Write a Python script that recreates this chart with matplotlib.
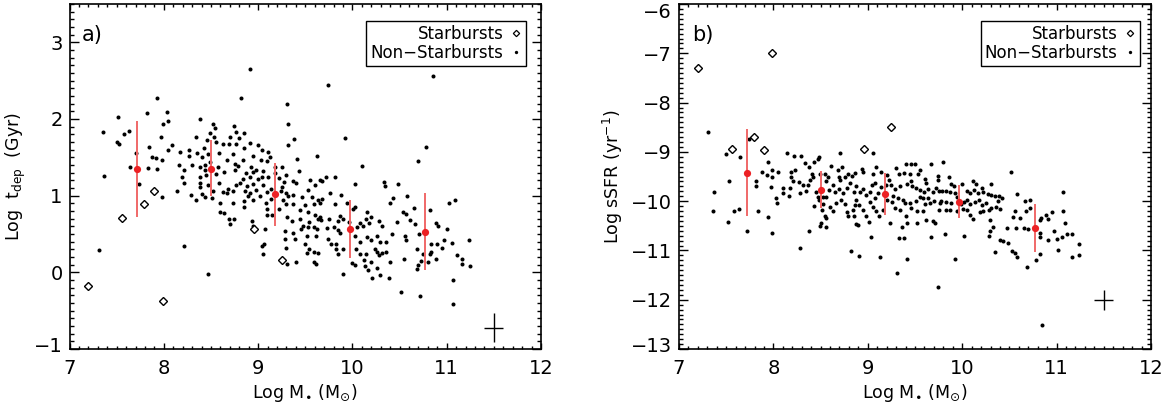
import numpy as np
import matplotlib
matplotlib.use("Agg")
import matplotlib.pyplot as plt
from matplotlib.lines import Line2D
from matplotlib.ticker import MultipleLocator
from matplotlib.transforms import ScaledTranslation

# starbursts (same galaxies in both panels)
sb_mass = [7.20, 7.56, 7.79, 7.90, 7.99, 8.96, 9.25]
sb_tdep = [-0.18, 0.71, 0.89, 1.06, -0.37, 0.56, 0.16]
sb_ssfr = [-7.29, -8.95, -8.69, -8.96, -7.00, -8.94, -8.49]

# non-starbursts: (log M*, log t_dep)
nsb_tdep = np.array([
    (8.91, 2.65), (7.93, 2.27), (8.82, 2.27), (9.31, 2.19), (8.03, 2.09), (7.82, 2.08),
    (7.51, 2.03), (8.04, 1.98), (7.99, 1.93), (8.38, 2.00), (9.32, 1.93), (7.35, 1.83),
    (7.63, 1.85), (7.58, 1.80), (8.52, 1.94), (8.54, 1.88), (8.49, 1.82), (8.74, 1.91),
    (8.77, 1.83), (8.85, 1.82), (7.97, 1.76), (8.34, 1.77), (8.46, 1.73), (8.53, 1.76),
    (8.80, 1.75), (8.70, 1.76), (7.50, 1.70), (7.53, 1.68), (8.09, 1.66), (7.84, 1.64),
    (8.04, 1.59), (8.17, 1.57), (8.27, 1.59), (8.35, 1.56), (8.43, 1.62), (8.55, 1.70),
    (8.63, 1.68), (8.69, 1.67), (8.77, 1.68), (8.85, 1.62), (8.91, 1.69), (9.00, 1.66),
    (9.04, 1.59), (9.11, 1.57), (9.32, 1.66), (7.87, 1.51), (7.92, 1.49), (7.98, 1.46),
    (7.71, 1.56), (8.27, 1.52), (8.40, 1.51), (8.47, 1.54), (8.59, 1.56), (8.67, 1.46),
    (8.73, 1.54), (8.84, 1.47), (8.95, 1.52), (9.03, 1.46), (9.09, 1.45), (9.13, 1.51),
    (8.16, 1.40), (8.30, 1.40), (8.38, 1.38), (8.44, 1.40), (8.49, 1.44), (8.58, 1.38),
    (8.76, 1.41), (8.79, 1.39), (8.93, 1.38), (8.98, 1.33), (9.18, 1.37), (9.25, 1.38),
    (7.64, 1.38), (7.83, 1.36), (7.93, 1.35), (8.21, 1.34), (8.44, 1.34), (8.64, 1.31),
    (8.76, 1.33), (8.87, 1.29), (8.95, 1.31), (9.05, 1.32), (9.18, 1.29), (9.30, 1.27),
    (7.37, 1.26), (8.19, 1.24), (8.38, 1.25), (8.45, 1.27), (8.55, 1.28), (8.84, 1.22),
    (8.91, 1.24), (9.00, 1.22), (9.04, 1.25), (9.11, 1.24), (9.22, 1.23), (9.27, 1.18),
    (7.74, 1.15), (8.21, 1.16), (8.38, 1.17), (8.47, 1.14), (8.59, 1.16), (8.68, 1.09),
    (8.77, 1.14), (8.81, 1.16), (8.88, 1.12), (8.95, 1.15), (9.05, 1.14), (9.14, 1.09),
    (9.25, 1.11), (8.14, 1.06), (8.38, 1.11), (8.52, 1.06), (8.63, 1.05), (8.73, 1.06),
    (8.86, 1.06), (8.91, 1.04), (8.98, 1.07), (9.09, 1.05), (9.24, 1.06), (9.30, 1.04),
    (7.98, 0.98), (8.29, 1.01), (8.34, 0.95), (8.40, 1.02), (8.44, 0.98), (8.51, 0.97),
    (8.67, 1.03), (8.73, 0.91), (8.85, 0.93), (8.89, 0.99), (8.95, 0.95), (9.02, 0.99),
    (9.08, 0.90), (9.14, 0.96), (9.26, 0.94), (9.32, 0.99), (8.60, 0.90), (8.85, 0.85),
    (9.09, 0.83), (9.22, 0.83), (9.30, 0.89), (8.60, 0.79), (8.64, 0.77), (8.69, 0.70),
    (8.74, 0.69), (8.70, 0.63), (8.94, 0.67), (8.95, 0.61), (9.07, 0.57), (9.09, 0.75),
    (9.15, 0.75), (9.28, 0.54), (9.31, 0.72), (9.28, 0.44), (9.06, 0.37), (9.04, 0.34),
    (9.30, 0.32), (9.05, 0.24), (9.31, 0.11), (8.21, 0.34), (7.31, 0.29), (8.47, -0.02),
    (10.85, 2.56), (9.74, 2.45), (9.38, 1.74), (9.92, 1.75), (10.78, 1.63), (9.41, 1.48),
    (9.62, 1.52), (10.70, 1.45), (10.10, 1.39), (9.43, 1.32), (9.37, 1.19), (9.40, 1.17),
    (9.55, 1.21), (9.66, 1.20), (9.68, 1.19), (9.72, 1.25), (9.82, 1.25), (10.33, 1.18),
    (10.35, 1.12), (10.48, 1.15), (10.03, 1.15), (9.60, 1.14), (9.53, 1.08), (9.76, 1.03),
    (9.37, 1.01), (9.47, 0.98), (9.57, 0.98), (9.64, 0.95), (9.68, 0.96), (9.88, 1.01),
    (10.43, 0.97), (10.58, 0.99), (11.09, 0.95), (11.02, 0.91), (10.40, 0.91), (9.37, 0.89),
    (9.50, 0.88), (9.59, 0.89), (9.66, 0.90), (9.82, 0.89), (9.94, 0.91), (10.03, 0.85),
    (10.01, 0.82), (10.65, 0.84), (10.54, 0.79), (10.57, 0.76), (10.82, 0.81), (10.16, 0.79),
    (9.44, 0.81), (9.53, 0.79), (9.60, 0.75), (9.63, 0.70), (9.66, 0.72), (9.87, 0.73),
    (9.90, 0.69), (10.20, 0.72), (9.44, 0.69), (9.36, 0.67), (9.54, 0.66), (9.67, 0.68),
    (9.75, 0.70), (9.85, 0.67), (9.96, 0.66), (10.14, 0.69), (10.28, 0.67), (10.31, 0.60),
    (10.61, 0.68), (10.66, 0.63), (10.89, 0.64), (10.91, 0.60), (11.00, 0.56), (10.47, 0.66),
    (9.48, 0.61), (9.53, 0.59), (9.59, 0.59), (9.62, 0.56), (9.73, 0.58), (9.80, 0.59),
    (9.85, 0.55), (9.87, 0.51), (10.05, 0.59), (10.08, 0.64), (10.11, 0.60), (10.18, 0.64),
    (9.37, 0.51), (9.39, 0.44), (9.45, 0.57), (9.50, 0.37), (9.52, 0.48), (9.61, 0.47),
    (9.74, 0.44), (9.77, 0.37), (9.83, 0.37), (9.90, 0.31), (10.03, 0.47), (10.08, 0.40),
    (10.16, 0.46), (10.20, 0.42), (10.26, 0.48), (10.29, 0.40), (10.36, 0.40), (10.42, 0.50),
    (10.56, 0.48), (10.57, 0.42), (10.71, 0.50), (10.83, 0.37), (10.90, 0.37), (10.95, 0.32),
    (10.97, 0.42), (11.06, 0.38), (11.24, 0.42), (9.54, 0.31), (9.52, 0.25), (9.59, 0.27),
    (9.63, 0.25), (9.83, 0.31), (9.85, 0.24), (10.04, 0.30), (10.08, 0.24), (10.14, 0.24),
    (10.24, 0.30), (10.26, 0.27), (10.28, 0.22), (10.31, 0.25), (10.36, 0.27), (10.68, 0.31),
    (10.75, 0.24), (10.82, 0.24), (10.83, 0.27), (11.11, 0.22), (11.16, 0.18), (11.16, 0.11),
    (11.25, 0.08), (9.59, 0.13), (9.61, 0.11), (9.40, 0.13), (9.90, -0.02), (10.00, 0.12),
    (10.03, 0.10), (10.12, 0.16), (10.13, 0.08), (10.17, 0.03), (10.20, 0.14), (10.21, -0.07),
    (10.26, 0.06), (10.29, -0.04), (10.40, 0.13), (10.39, -0.08), (10.55, 0.18), (10.69, 0.05),
    (10.70, 0.09), (10.73, 0.15), (10.80, 0.14), (10.89, 0.18), (11.07, -0.10), (10.52, -0.26),
    (10.72, -0.31), (11.07, -0.41),
])

# non-starbursts: (log M*, log sSFR)
nsb_ssfr = np.array([
    (7.31, -8.59), (7.50, -9.05), (7.65, -9.10), (7.74, -8.73), (8.14, -9.02), (8.22, -9.08),
    (8.29, -9.08), (8.48, -9.10), (8.47, -9.15), (8.43, -9.21), (8.34, -9.23), (8.38, -9.30),
    (8.71, -9.03), (9.05, -9.02), (7.94, -9.21), (7.88, -9.40), (7.99, -9.37), (8.05, -9.40),
    (7.93, -9.47), (7.98, -9.50), (8.19, -9.40), (8.23, -9.37), (8.19, -9.52), (8.21, -9.60),
    (8.27, -9.62), (8.31, -9.67), (8.37, -9.67), (8.39, -9.57), (8.41, -9.44), (8.42, -9.50),
    (8.49, -9.44), (8.55, -9.44), (8.58, -9.52), (8.56, -9.59), (8.61, -9.29), (8.68, -9.37),
    (8.73, -9.30), (8.69, -9.50), (8.71, -9.58), (8.76, -9.52), (8.79, -9.44), (8.83, -9.49),
    (8.86, -9.42), (8.94, -9.35), (8.95, -9.40), (9.05, -9.44), (9.09, -9.30), (9.14, -9.40),
    (9.20, -9.47), (7.82, -9.60), (7.82, -9.69), (7.53, -9.60), (7.37, -9.81), (7.97, -9.71),
    (8.10, -9.74), (8.18, -9.73), (8.10, -9.84), (8.17, -9.89), (8.28, -9.84), (8.35, -9.79),
    (8.45, -9.81), (8.47, -9.91), (8.48, -9.98), (8.53, -9.91), (8.56, -9.91), (8.59, -9.77),
    (8.63, -9.67), (8.65, -9.81), (8.69, -9.76), (8.74, -9.83), (8.78, -9.74), (8.81, -9.64),
    (8.85, -9.81), (8.88, -9.69), (8.92, -9.81), (8.95, -9.76), (8.98, -9.87), (9.02, -9.81),
    (9.04, -9.67), (9.08, -9.64), (9.11, -9.83), (9.14, -9.71), (9.19, -9.67), (9.22, -9.57),
    (8.03, -9.94), (8.04, -10.04), (7.94, -10.33), (7.84, -10.20), (7.64, -10.15), (7.58, -10.21),
    (7.36, -10.21), (7.52, -10.42), (7.72, -10.60), (7.99, -10.65), (8.38, -10.60), (8.28, -10.96),
    (8.43, -10.10), (8.53, -10.06), (8.52, -10.18), (8.55, -10.30), (8.56, -10.35), (8.50, -10.45),
    (8.49, -10.50), (8.56, -10.53), (8.60, -10.11), (8.63, -10.21), (8.66, -10.03), (8.72, -9.98),
    (8.76, -10.06), (8.78, -10.23), (8.79, -10.30), (8.84, -10.18), (8.85, -10.31), (8.86, -10.08),
    (8.88, -9.98), (8.91, -10.08), (8.88, -10.46), (8.90, -10.48), (8.95, -10.18), (8.98, -10.30),
    (9.01, -10.42), (9.02, -10.01), (9.05, -10.11), (9.08, -9.94), (9.09, -10.21), (9.12, -10.30),
    (9.16, -10.18), (9.20, -9.98), (9.03, -10.73), (8.82, -11.02), (8.91, -11.11), (9.13, -11.14),
    (9.80, -9.20), (9.67, -9.25), (9.50, -9.25), (9.46, -9.25), (9.40, -9.25), (9.30, -9.33),
    (9.33, -9.44), (9.38, -9.42), (9.45, -9.44), (9.55, -9.37), (9.53, -9.45), (9.61, -9.56),
    (9.62, -9.64), (9.74, -9.48), (9.74, -9.58), (9.86, -9.52), (9.88, -9.65), (9.91, -9.69),
    (10.00, -9.65), (10.11, -9.60), (10.15, -9.65), (10.21, -9.74), (10.30, -9.65), (10.52, -9.40),
    (11.07, -9.81), (10.58, -9.85), (9.25, -9.67), (9.29, -9.76), (9.34, -9.69), (9.41, -9.65),
    (9.46, -9.60), (9.47, -9.69), (9.51, -9.74), (9.55, -9.77), (9.60, -9.81), (9.64, -9.76),
    (9.69, -9.81), (9.72, -9.74), (9.75, -9.79), (9.79, -9.79), (9.83, -9.79), (9.87, -9.81),
    (9.92, -9.83), (10.05, -9.79), (10.08, -9.83), (10.12, -9.77), (10.17, -9.84), (10.22, -9.81),
    (10.27, -9.85), (10.31, -9.87), (10.35, -9.89), (10.39, -9.89), (9.27, -9.89), (9.32, -9.94),
    (9.37, -9.98), (9.26, -10.01), (9.39, -10.04), (9.45, -10.03), (9.51, -9.99), (9.55, -9.91),
    (9.59, -9.94), (9.64, -9.94), (9.66, -10.03), (9.61, -10.06), (9.70, -9.99), (9.76, -10.03),
    (9.78, -9.99), (9.83, -10.01), (9.88, -10.04), (9.95, -9.91), (9.99, -10.06), (10.02, -10.01),
    (10.05, -9.98), (10.08, -10.06), (10.14, -10.01), (10.18, -9.98), (10.21, -10.08), (10.25, -10.04),
    (10.28, -10.17), (10.31, -10.13), (10.36, -10.11), (10.40, -10.15), (10.38, -9.99), (10.42, -9.94),
    (9.29, -10.13), (9.34, -10.17), (9.40, -10.30), (9.46, -10.13), (9.52, -10.21), (9.59, -10.19),
    (9.75, -10.17), (9.83, -10.18), (9.87, -10.17), (9.94, -10.21), (10.01, -10.15), (10.05, -10.18),
    (10.08, -10.28), (10.11, -10.37), (10.19, -10.23), (10.22, -10.19), (10.29, -10.38), (10.33, -10.52),
    (10.29, -10.60), (10.28, -10.71), (10.35, -11.04), (10.40, -10.79), (10.43, -10.81), (10.48, -10.85),
    (10.53, -11.02), (10.56, -11.06), (10.58, -11.13), (10.47, -10.55), (10.57, -10.55), (10.65, -10.55),
    (10.70, -10.57), (10.61, -10.35), (10.54, -10.33), (10.56, -10.21), (10.68, -10.21), (10.72, -10.13),
    (10.67, -9.99), (10.72, -9.98), (10.82, -10.38), (10.83, -10.35), (10.82, -10.65), (10.82, -10.73),
    (10.82, -11.07), (10.78, -11.19), (10.69, -11.33), (10.89, -10.28), (10.95, -10.23), (10.91, -10.37),
    (10.97, -10.60), (11.00, -10.77), (11.06, -10.72), (11.07, -10.21), (11.09, -10.44), (11.11, -10.67),
    (11.16, -10.67), (11.02, -11.00), (11.16, -11.13), (11.24, -10.87), (11.24, -11.09), (10.91, -10.79),
    (9.67, -10.73), (9.82, -10.67), (10.02, -10.71), (9.62, -10.39), (9.69, -10.40), (9.71, -10.45),
    (9.52, -10.45), (9.41, -10.45), (9.36, -10.53), (9.33, -10.75), (9.38, -10.75), (9.24, -10.44),
    (9.42, -11.17), (9.31, -11.46), (9.74, -11.75), (9.92, -11.18), (10.85, -12.51),
])

# binned medians with 1-sigma ranges
bin_mass = [7.72, 8.50, 9.18, 9.97, 10.77]
tdep_med = [1.35, 1.35, 1.02, 0.57, 0.52]
tdep_lo = [0.72, 1.00, 0.61, 0.19, 0.03]
tdep_hi = [1.98, 1.73, 1.42, 0.94, 1.03]
ssfr_med = [-9.43, -9.77, -9.86, -10.01, -10.55]
ssfr_lo = [-10.30, -10.14, -10.28, -10.35, -11.04]
ssfr_hi = [-8.54, -9.38, -9.43, -9.67, -10.06]

# typical uncertainty
err_pos_a = (11.5, -0.72)
err_pos_b = (11.5, -12.0)
err_size_a = (0.1, 0.19)
err_size_b = (0.1, 0.2)

W, H = 1171, 404
fig = plt.figure(figsize=(W / 100, H / 100), dpi=100)
ax_a = fig.add_axes([69.5 / W, 55 / H, 471.5 / W, 345 / H])
ax_b = fig.add_axes([679 / W, 55 / H, 472 / W, 345 / H])

red = "#ec2124"
bar_red = "#f06868"


def panel(ax, nsb, sb_y, med, lo, hi, epos, esize, ylim, ylabel, tag, leg_anchor, ylab_x):
    ax.plot(nsb[:, 0], nsb[:, 1], "o", color="k", ms=2.9, mew=0, zorder=3)
    ax.plot(sb_mass, sb_y, "D", mfc="white", mec="k", ms=4.2, mew=1.0, zorder=4)
    med = np.array(med)
    yerr = [med - np.array(lo), np.array(hi) - med]
    ax.errorbar(bin_mass, med, yerr=yerr, fmt="none", ecolor=bar_red, elinewidth=1.4,
                capsize=0, zorder=5)
    ax.plot(bin_mass, med, "o", color=red, ms=5.2, mew=0, zorder=6)
    ax.errorbar([epos[0]], [epos[1]], xerr=[esize[0]], yerr=[esize[1]], fmt="none",
                ecolor="k", elinewidth=1.0, capsize=0)

    ax.set_xlim(7, 12)
    ax.set_ylim(*ylim)
    ax.xaxis.set_major_locator(MultipleLocator(1))
    ax.xaxis.set_minor_locator(MultipleLocator(0.1))
    ax.yaxis.set_major_locator(MultipleLocator(1))
    ax.yaxis.set_minor_locator(MultipleLocator(0.1))
    ax.tick_params(which="both", direction="in", top=True, right=True, width=1.0,
                   labelsize=14, colors="k")
    ax.tick_params(axis="x", which="major", length=4.5, pad=7)
    ax.tick_params(axis="x", which="minor", length=2.2)
    ax.tick_params(axis="y", which="major", length=6.5, pad=5)
    ax.tick_params(axis="y", which="minor", length=3.2)
    for s in ax.spines.values():
        s.set_linewidth(1.2)

    ax.set_xlabel(r"Log M$_{\bullet}$ (M$_{\odot}$)", fontsize=12.5)
    ax.xaxis.set_label_coords(0.5, -0.095)
    ax.set_ylabel(ylabel, fontsize=12.5)
    ax.yaxis.set_label_coords(ylab_x, 0.5)
    ax.text(0.027, 0.91, tag, transform=ax.transAxes, fontsize=15, va="center", ha="left")

    handles = [
        Line2D([], [], ls="none", marker="D", mfc="white", mec="k", ms=3.2, mew=0.9),
        Line2D([], [], ls="none", marker="o", color="k", ms=2.4, mew=0),
    ]
    leg = ax.legend(handles, ["Starbursts", "Non\u2212Starbursts"], loc="upper right",
                    bbox_to_anchor=leg_anchor, borderaxespad=0, markerfirst=False,
                    fontsize=12, handlelength=0.7, handletextpad=0.4, labelspacing=0.05,
                    borderpad=0.25, fancybox=False, framealpha=1, edgecolor="k")
    leg.get_frame().set_linewidth(1.0)
    for t in leg.get_texts():
        t.set_ha("right")


panel(ax_a, nsb_tdep, sb_tdep, tdep_med, tdep_lo, tdep_hi, err_pos_a, err_size_a,
      (-1, 3.5), r"Log  t$_{\rm dep}$  (Gyr)", "a)", (0.968, 0.951), -0.088)
panel(ax_b, nsb_ssfr, sb_ssfr, ssfr_med, ssfr_lo, ssfr_hi, err_pos_b, err_size_b,
      (-13, -6), r"Log sSFR (yr$^{-1}$)", "b)", (0.977, 0.951), -0.114)

# nudge the end labels of the y axes inside the frame
fig.canvas.draw()
down = ScaledTranslation(0, -6.5 / 100, fig.dpi_scale_trans)
up = ScaledTranslation(0, 4 / 100, fig.dpi_scale_trans)
for ax in (ax_a, ax_b):
    lo, hi = ax.get_ylim()
    for tick in ax.yaxis.get_major_ticks():
        if abs(tick.get_loc() - hi) < 1e-6:
            tick.label1.set_transform(tick.label1.get_transform() + down)
        elif abs(tick.get_loc() - lo) < 1e-6:
            tick.label1.set_transform(tick.label1.get_transform() + up)

fig.savefig("out.png", dpi=100)
